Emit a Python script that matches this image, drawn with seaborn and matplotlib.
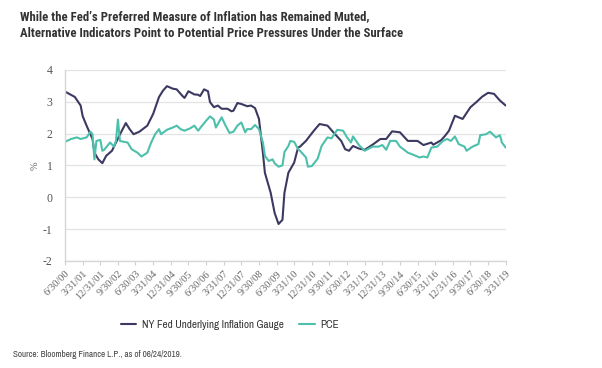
import pandas as pd
import numpy as np
import seaborn as sns
import matplotlib.pyplot as plt

# NY Fed Underlying Inflation Gauge (month, %)
uig_dates = ['2000-06', '2000-11', '2001-02', '2001-03', '2001-05', '2001-08', '2001-09', '2001-11',
             '2002-01', '2002-03', '2002-06', '2002-08', '2002-11', '2003-01', '2003-03', '2003-05',
             '2003-08', '2003-12', '2004-03', '2004-06', '2004-08', '2004-10', '2005-01', '2005-03',
             '2005-06', '2005-07', '2005-09', '2005-12', '2006-02', '2006-03', '2006-05', '2006-07',
             '2006-08', '2006-10', '2006-12', '2007-02', '2007-05', '2007-07', '2007-08', '2007-10',
             '2007-12', '2008-03', '2008-05', '2008-07', '2008-09', '2008-11', '2008-12', '2009-03',
             '2009-05', '2009-07', '2009-09', '2009-10', '2009-12', '2010-03', '2010-05', '2010-06',
             '2010-09', '2011-01', '2011-04', '2011-08', '2011-11', '2012-03', '2012-05', '2012-07',
             '2012-09', '2012-12', '2013-03', '2013-07', '2013-11', '2014-02', '2014-05', '2014-09',
             '2015-01', '2015-06', '2015-09', '2016-01', '2016-02', '2016-06', '2016-08', '2016-10',
             '2017-01', '2017-05', '2017-09', '2017-12', '2018-03', '2018-06', '2018-09', '2018-12',
             '2019-03']
uig_vals = [3.32, 3.15, 2.88, 2.55, 2.25, 1.83, 1.40, 1.19,
            1.07, 1.30, 1.46, 1.72, 2.09, 2.33, 2.14, 1.98,
            2.06, 2.25, 2.62, 3.15, 3.35, 3.49, 3.41, 3.39,
            3.18, 3.12, 3.33, 3.23, 3.22, 3.18, 3.39, 3.33,
            2.99, 2.83, 2.88, 2.78, 2.78, 2.70, 2.72, 2.96,
            2.93, 2.86, 2.88, 2.80, 2.46, 1.40, 0.77, 0.14,
            -0.49, -0.84, -0.71, 0.14, 0.77, 1.09, 1.56, 1.59,
            1.77, 2.09, 2.30, 2.25, 2.04, 1.77, 1.51, 1.46,
            1.61, 1.53, 1.49, 1.65, 1.83, 1.83, 2.07, 2.04,
            1.77, 1.77, 1.64, 1.72, 1.65, 1.79, 1.93, 2.09,
            2.56, 2.46, 2.83, 2.99, 3.16, 3.28, 3.25, 3.04,
            2.88]

# PCE (month, %)
pce_dates = ['2000-06', '2000-09', '2000-12', '2001-02', '2001-05', '2001-07', '2001-08', '2001-09',
             '2001-10', '2001-12', '2002-01', '2002-02', '2002-05', '2002-07', '2002-08', '2002-09',
             '2002-10', '2002-12', '2003-02', '2003-04', '2003-07', '2003-09', '2003-12', '2004-02',
             '2004-04', '2004-06', '2004-07', '2004-10', '2005-01', '2005-03', '2005-05', '2005-07',
             '2005-10', '2005-12', '2006-02', '2006-04', '2006-06', '2006-08', '2006-10', '2006-11',
             '2007-02', '2007-04', '2007-06', '2007-08', '2007-10', '2007-12', '2008-02', '2008-03',
             '2008-05', '2008-07', '2008-09', '2008-11', '2008-12', '2009-02', '2009-04', '2009-05',
             '2009-07', '2009-09', '2009-10', '2009-12', '2010-01', '2010-03', '2010-05', '2010-06',
             '2010-09', '2010-10', '2010-12', '2011-03', '2011-05', '2011-08', '2011-10', '2012-01',
             '2012-04', '2012-06', '2012-08', '2012-09', '2012-12', '2013-03', '2013-07', '2013-10',
             '2013-12', '2014-02', '2014-04', '2014-07', '2014-09', '2015-01', '2015-04', '2015-07',
             '2015-09', '2015-11', '2016-01', '2016-04', '2016-07', '2016-09', '2016-11', '2017-01',
             '2017-03', '2017-06', '2017-07', '2017-10', '2018-01', '2018-02', '2018-05', '2018-07',
             '2018-10', '2018-12', '2019-01', '2019-03']
pce_vals = [1.74, 1.83, 1.88, 1.83, 1.88, 2.06, 1.98, 1.19,
            1.77, 1.80, 1.46, 1.49, 1.72, 1.59, 1.77, 2.44,
            1.77, 1.74, 1.72, 1.51, 1.40, 1.28, 1.40, 1.72,
            1.98, 2.14, 1.98, 2.12, 2.19, 2.25, 2.14, 2.09,
            2.17, 2.25, 2.09, 2.25, 2.40, 2.54, 2.44, 2.19,
            2.51, 2.25, 2.02, 2.06, 2.25, 2.35, 2.04, 2.14,
            2.14, 2.27, 2.14, 1.72, 1.30, 1.14, 1.19, 1.07,
            0.96, 1.00, 1.42, 1.61, 1.77, 1.74, 1.51, 1.46,
            1.25, 0.96, 0.98, 1.21, 1.61, 1.88, 1.85, 2.12,
            2.09, 1.88, 1.72, 1.91, 1.64, 1.46, 1.59, 1.59,
            1.64, 1.49, 1.77, 1.77, 1.59, 1.40, 1.33, 1.25,
            1.28, 1.25, 1.56, 1.59, 1.77, 1.83, 1.77, 1.91,
            1.67, 1.59, 1.46, 1.59, 1.67, 1.95, 1.98, 2.06,
            1.88, 1.95, 1.72, 1.56]

series_names = ['NY Fed Underlying Inflation Gauge', 'PCE']
colors = ['#3b3961', '#4dc0ab']

uig = pd.DataFrame({'date': pd.to_datetime(uig_dates) + pd.offsets.MonthEnd(0), 'value': uig_vals})
pce = pd.DataFrame({'date': pd.to_datetime(pce_dates) + pd.offsets.MonthEnd(0), 'value': pce_vals})

sns.set_theme(style='white')
plt.rcParams['axes.unicode_minus'] = False
narrow = ['Archivo Narrow', 'DejaVu Sans']
narrow_bold = ['Roboto Condensed', 'Saira SemiCondensed', 'Archivo Narrow', 'DejaVu Sans']
serif = ['Liberation Serif', 'DejaVu Serif']

fig = plt.figure(figsize=(6.02, 3.68), dpi=100)
ax = fig.add_axes([0.108, 0.291, 0.732, 0.519])

sns.lineplot(data=uig, x='date', y='value', ax=ax, color=colors[0], lw=1.5, label=series_names[0])
sns.lineplot(data=pce, x='date', y='value', ax=ax, color=colors[1], lw=1.5, label=series_names[1])

ax.set_ylim(-2, 4)
ax.set_yticks(range(-2, 5))
ax.set_xlim(pd.Timestamp('2000-06-30'), pd.Timestamp('2019-03-31'))
ticks = pd.date_range('2000-06-30', '2019-03-31', freq='9ME')
ax.set_xticks(ticks)
ax.set_xticklabels([f'{d.month}/{d.day}/{d:%y}' for d in ticks], rotation=45, ha='right',
                   rotation_mode='anchor', fontsize=7.5, color='#666666', family=serif)
for lab in ax.get_yticklabels():
    lab.set_family(serif)
ax.tick_params(axis='y', labelsize=8.5, labelcolor='#555555', length=0, pad=9)
ax.tick_params(axis='x', length=3, color='#d0d0d0', width=0.8, pad=3, bottom=True)

ax.grid(axis='y', color='#e3e3e3', lw=0.9)
ax.set_axisbelow(True)
for s in ['top', 'right']:
    ax.spines[s].set_visible(False)
for s in ['left', 'bottom']:
    ax.spines[s].set_color('#d6d6d6')
    ax.spines[s].set_linewidth(1)
ax.set_xlabel('')
ax.set_ylabel('%', fontsize=7.5, color='#666666', family=serif, labelpad=2)

ax.get_legend().remove()
handles, labels = ax.get_legend_handles_labels()
leg = fig.legend(handles, labels, loc='center', bbox_to_anchor=(230 / 602, 1 - 325 / 368), ncol=2,
                 frameon=False, handlelength=1.4, columnspacing=1.4, handletextpad=0.5,
                 prop={'family': narrow, 'size': 8})
for t in leg.get_texts():
    t.set_color('#333333')

fig.text(0.033, 0.972, "While the Fed\u2019s Preferred Measure of Inflation has Remained Muted,\n"
         "Alternative Indicators Point to Potential Price Pressures Under the Surface",
         family=narrow_bold, weight='bold', fontsize=9.2, color='#333333', va='top', linespacing=1.4)
fig.text(0.022, 0.03, 'Source: Bloomberg Finance L.P., as of 06/24/2019.',
         family=narrow, fontsize=6.5, color='#444444')

fig.savefig('out.png', dpi=100)
